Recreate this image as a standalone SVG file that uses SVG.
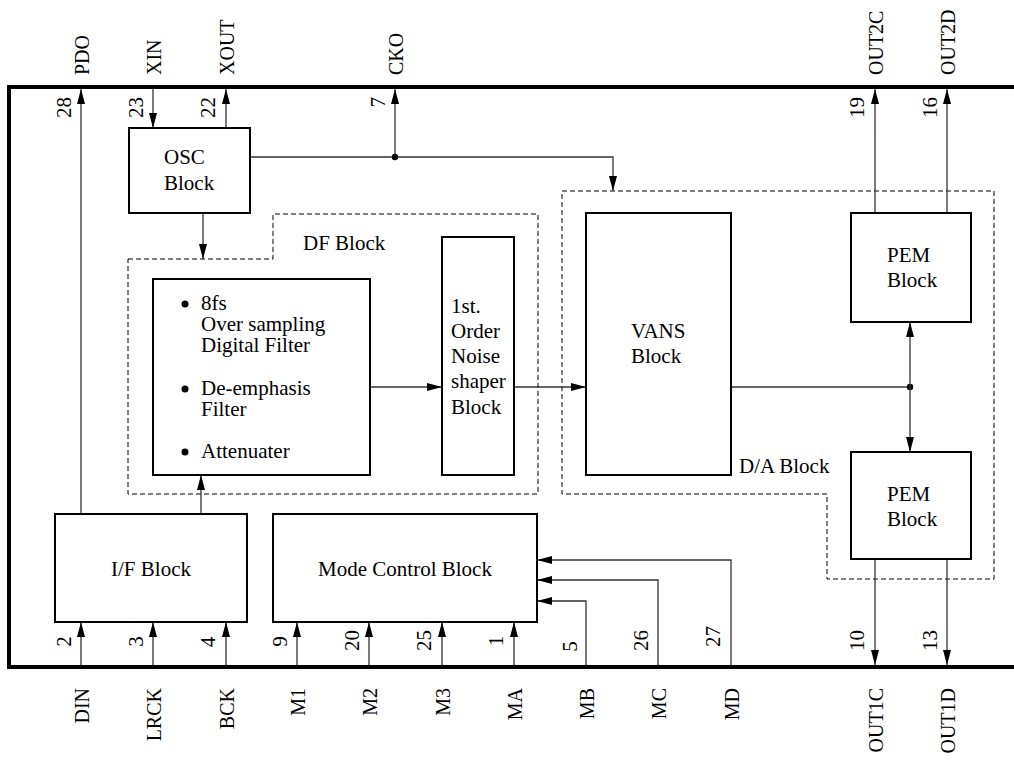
<svg xmlns="http://www.w3.org/2000/svg" width="1014" height="761" viewBox="0 0 1014 761">
<defs>
<marker id="arr" markerUnits="userSpaceOnUse" markerWidth="15" markerHeight="8" refX="15" refY="4" orient="auto-start-reverse">
<path d="M0,0 L15,4 L0,8 Z" fill="#000"/>
</marker>
</defs>
<style>
.chip{fill:none;stroke:#000;stroke-width:4}
.box{fill:#fff;stroke:#000;stroke-width:2}
.dash{fill:none;stroke:#000;stroke-width:1;stroke-dasharray:5,3}
.ln{fill:none;stroke:#333;stroke-width:1.3}
.ar{marker-end:url(#arr)}
text{font-family:'Liberation Serif','DejaVu Serif',serif;fill:#000}
.t{font-size:21px}
.p{font-size:20px;text-anchor:start}
.pe{font-size:20px;text-anchor:end}
.n{font-size:21px;text-anchor:end}
.nm{font-size:21px;text-anchor:middle}
.c{text-anchor:middle}
</style>
<rect width="1014" height="761" fill="#fff"/>
<path id="chip" class="chip" d="M1020,87 H9 V667 H1020"/>

<g id="df-block">
<polygon class="dash" points="128,259 273,259 273,214 538,214 538,494 128,494"/>
<text class="t" x="303" y="250" font-family="Liberation Serif, serif">DF Block</text>
</g>
<g id="da-block">
<polygon class="dash" points="562,191 994,191 994,579 827,579 827,494 562,494"/>
<text class="t" x="739" y="473">D/A Block</text>
</g>

<g id="connectors">
<path class="ln ar" d="M81,514 V89"/>
<path class="ln ar" d="M153,89 V128"/>
<path class="ln ar" d="M226,128 V89"/>
<path class="ln ar" d="M250,157 H613 V191"/>
<path class="ln ar" d="M395,157 V89"/>
<circle cx="395" cy="157" r="3.2" fill="#000"/>
<path class="ln ar" d="M203,213 V259"/>
<path class="ln ar" d="M201,514 V475"/>
<path class="ln ar" d="M370,387 H442"/>
<path class="ln ar" d="M514,387 H586"/>
<path class="ln" d="M731,387 H910"/>
<circle cx="910" cy="387" r="3.2" fill="#000"/>
<path class="ln ar" d="M910,322 V452" style="marker-start:url(#arr)"/>
<path class="ln ar" d="M875,213 V89"/>
<path class="ln ar" d="M947,213 V89"/>
<path class="ln ar" d="M875,559 V665"/>
<path class="ln ar" d="M947,559 V665"/>
<path class="ln ar" d="M81,665 V622"/>
<path class="ln ar" d="M153,665 V622"/>
<path class="ln ar" d="M226,665 V622"/>
<path class="ln ar" d="M297,665 V622"/>
<path class="ln ar" d="M369,665 V622"/>
<path class="ln ar" d="M442,665 V622"/>
<path class="ln ar" d="M514,665 V622"/>
<path class="ln ar" d="M586,665 V601 H537"/>
<path class="ln ar" d="M658,665 V580 H537"/>
<path class="ln ar" d="M731,665 V560 H537"/>
</g>

<g id="osc">
<rect class="box" x="129" y="128" width="121" height="85"/>
<text class="t" x="164" y="164">OSC</text>
<text class="t" x="164" y="190">Block</text>
</g>
<g id="filter">
<rect class="box" x="153" y="279" width="217" height="196"/>
<circle cx="185" cy="304" r="3.5" fill="#000"/>
<circle cx="185" cy="389" r="3.5" fill="#000"/>
<circle cx="185" cy="452" r="3.5" fill="#000"/>
<text class="t" x="201" y="310">8fs</text>
<text class="t" x="201" y="331">Over sampling</text>
<text class="t" x="201" y="352">Digital Filter</text>
<text class="t" x="201" y="395">De-emphasis</text>
<text class="t" x="201" y="416">Filter</text>
<text class="t" x="201" y="458">Attenuater</text>
</g>
<g id="noise-shaper">
<rect class="box" x="442" y="237" width="72" height="238"/>
<text class="t" x="451" y="313">1st.</text>
<text class="t" x="451" y="338">Order</text>
<text class="t" x="451" y="363">Noise</text>
<text class="t" x="451" y="388">shaper</text>
<text class="t" x="451" y="414">Block</text>
</g>
<g id="vans">
<rect class="box" x="586" y="213" width="145" height="262"/>
<text class="t" x="631" y="338">VANS</text>
<text class="t" x="631" y="363">Block</text>
</g>
<g id="pem-top">
<rect class="box" x="851" y="213" width="120" height="109"/>
<text class="t" x="887" y="262">PEM</text>
<text class="t" x="887" y="287">Block</text>
</g>
<g id="pem-bottom">
<rect class="box" x="851" y="452" width="120" height="107"/>
<text class="t" x="887" y="501">PEM</text>
<text class="t" x="887" y="526">Block</text>
</g>
<g id="if-block">
<rect class="box" x="55" y="514" width="192" height="108"/>
<text class="t c" x="151" y="576">I/F Block</text>
</g>
<g id="mode-control">
<rect class="box" x="273" y="514" width="264" height="108"/>
<text class="t c" x="405" y="576">Mode Control Block</text>
</g>

<g id="pin-labels">
<text class="p" transform="translate(89,75) rotate(-90)">PDO</text>
<text class="p" transform="translate(161,75) rotate(-90)">XIN</text>
<text class="p" transform="translate(234,75) rotate(-90)">XOUT</text>
<text class="p" transform="translate(403,75) rotate(-90)">CKO</text>
<text class="p" transform="translate(883,75) rotate(-90)">OUT2C</text>
<text class="p" transform="translate(955,75) rotate(-90)">OUT2D</text>
<text class="pe" transform="translate(89,688) rotate(-90)">DIN</text>
<text class="pe" transform="translate(161,688) rotate(-90)">LRCK</text>
<text class="pe" transform="translate(234,688) rotate(-90)">BCK</text>
<text class="pe" transform="translate(305,688) rotate(-90)">M1</text>
<text class="pe" transform="translate(377,688) rotate(-90)">M2</text>
<text class="pe" transform="translate(450,688) rotate(-90)">M3</text>
<text class="pe" transform="translate(522,688) rotate(-90)">MA</text>
<text class="pe" transform="translate(594,688) rotate(-90)">MB</text>
<text class="pe" transform="translate(666,688) rotate(-90)">MC</text>
<text class="pe" transform="translate(739,688) rotate(-90)">MD</text>
<text class="pe" transform="translate(883,688) rotate(-90)">OUT1C</text>
<text class="pe" transform="translate(955,688) rotate(-90)">OUT1D</text>
</g>
<g id="pin-numbers">
<text class="n" transform="translate(71,97) rotate(-90)">28</text>
<text class="n" transform="translate(143,97) rotate(-90)">23</text>
<text class="n" transform="translate(215,97) rotate(-90)">22</text>
<text class="n" transform="translate(385,97) rotate(-90)">7</text>
<text class="n" transform="translate(864,97) rotate(-90)">19</text>
<text class="n" transform="translate(937,97) rotate(-90)">16</text>
<text class="nm" transform="translate(71,641.5) rotate(-90)">2</text>
<text class="nm" transform="translate(143,641.5) rotate(-90)">3</text>
<text class="nm" transform="translate(215,642) rotate(-90)">4</text>
<text class="nm" transform="translate(287,641.5) rotate(-90)">9</text>
<text class="nm" transform="translate(359,640.5) rotate(-90)">20</text>
<text class="nm" transform="translate(431,640.5) rotate(-90)">25</text>
<text class="nm" transform="translate(503,641) rotate(-90)">1</text>
<text class="nm" transform="translate(577,646.5) rotate(-90)">5</text>
<text class="nm" transform="translate(648,640.5) rotate(-90)">26</text>
<text class="nm" transform="translate(720,636.5) rotate(-90)">27</text>
<text class="nm" transform="translate(864,640.5) rotate(-90)">10</text>
<text class="nm" transform="translate(937,640.5) rotate(-90)">13</text>
</g>
</svg>
